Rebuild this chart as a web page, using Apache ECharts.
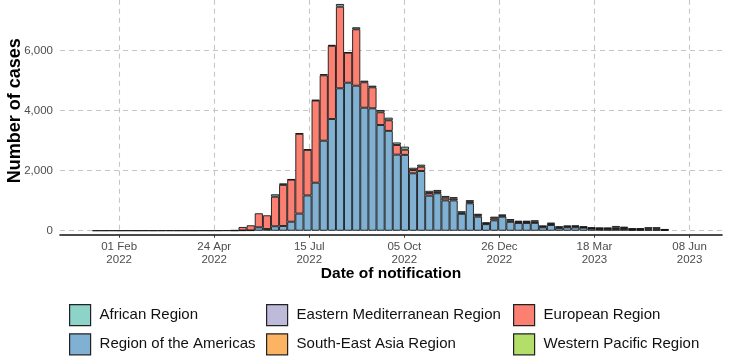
<!DOCTYPE html>
<html><head><meta charset="utf-8">
<script src="https://cdn.jsdelivr.net/npm/echarts@6.0.0/dist/echarts.min.js"></script>
<style>html,body{margin:0;padding:0;background:#fff}#c{width:735px;height:361px}</style>
</head><body><div id="c"></div>
<script>
// Weekly bins (week starting Sunday)
const weekStart = [
 '2022-01-09','2022-01-16','2022-01-23','2022-01-30',
 '2022-02-06','2022-02-13','2022-02-20','2022-02-27',
 '2022-03-06','2022-03-13','2022-03-20','2022-03-27',
 '2022-04-03','2022-04-10','2022-04-17','2022-04-24',
 '2022-05-01','2022-05-08','2022-05-15','2022-05-22','2022-05-29',
 '2022-06-05','2022-06-12','2022-06-19','2022-06-26',
 '2022-07-03','2022-07-10','2022-07-17','2022-07-24','2022-07-31',
 '2022-08-07','2022-08-14','2022-08-21','2022-08-28',
 '2022-09-04','2022-09-11','2022-09-18','2022-09-25',
 '2022-10-02','2022-10-09','2022-10-16','2022-10-23','2022-10-30',
 '2022-11-06','2022-11-13','2022-11-20','2022-11-27',
 '2022-12-04','2022-12-11','2022-12-18','2022-12-25',
 '2023-01-01','2023-01-08','2023-01-15','2023-01-22','2023-01-29',
 '2023-02-05','2023-02-12','2023-02-19','2023-02-26',
 '2023-03-05','2023-03-12','2023-03-19','2023-03-26',
 '2023-04-02','2023-04-09','2023-04-16','2023-04-23','2023-04-30',
 '2023-05-07','2023-05-14'
];
const americas = [
 null,null,null,null, null,null,null,null, null,null,null,null, null,null,null,null,
 null,2,8,10,113, 57,147,157,300, 570,1175,1600,3000,3723,
 4747,4933,4833,4100, 4080,3523,3328,2535, 2528,1913,1990,1168,1247,
 1010,1010,563,913, 467,218,345,467, 295,257,257,260,113,
 190,83,113,113, 100,67,53,50, 53,53,30,30,40, 40,20
];
const european = [
 1,1,2,1, 2,1,2,1, 2,3,2,3, 2,4,3,5,
 8,15,115,170,467, 456,986,1370,1400, 2660,1520,2740,2180,2440,
 2720,1000,1880,847, 700,424,352,322, 172,110,143,89,50,
 90,60,40,50, 50,30,68,40, 50,40,40,45,30,
 40,30,27,32, 20,20,25,25, 44,40,25,25,35, 35,15
];
const african = [
 null,null,null,null, null,null,null,null, null,null,null,null, null,null,null,null,
 null,null,null,null,null, null,80,50,15, 17,18,17,40,27,
 90,14,67,53, 53,76,87,83, 100,74,67,71,60,
 57,47,42,55, 46,25,54,28, 40,31,31,40,24,
 37,32,30,30, 20,20,22,25, 60,40,25,25,38, 38,12
];
const easternMed = weekStart.map(() => null);
const seAsia = weekStart.map(() => null);
const westernPacific = weekStart.map(() => null);

const tickDates = ['2022-02-01','2022-04-24','2022-07-15','2022-10-05','2022-12-26','2023-03-18','2023-06-08'];
const xRange = ['2021-12-12','2023-07-06'];
const yTicks = [0, 2000, 4000, 6000];

const DAY = 86400000;
const toMs = s => Date.parse(s + 'T00:00:00Z');
const centers = weekStart.map(s => toMs(s) + 3.5 * DAY);
const months = ['Jan','Feb','Mar','Apr','May','Jun','Jul','Aug','Sep','Oct','Nov','Dec'];
const fmtDate = v => { const d = new Date(v); const dd = String(d.getUTCDate()).padStart(2,'0');
  return dd + ' ' + months[d.getUTCMonth()] + '\n' + d.getUTCFullYear(); };

const FONT = '"Liberation Sans", Arial, Helvetica, sans-serif';
const gridStyle = { color: '#c6c6c6', type: [5, 4], width: 1.1 };

// value first so that stacking happens on the count dimension
const mk = (name, arr, color) => ({
  name, type: 'bar', stack: 'total', barWidth: '100%',
  encode: { x: 1, y: 0 },
  itemStyle: { color, borderColor: '#151515', borderWidth: 0.9 },
  emphasis: { disabled: true },
  data: arr.map((v, i) => [v, centers[i]])
});

// stacking order bottom -> top
const series = [
  mk('Western Pacific Region', westernPacific, '#B3DE69'),
  mk('South-East Asia Region', seAsia, '#FDB462'),
  mk('Region of the Americas', americas, '#80B1D3'),
  mk('European Region', european, '#FB8072'),
  mk('Eastern Mediterranean Region', easternMed, '#BEBADA'),
  mk('African Region', african, '#8DD3C7')
];

const legendBase = (left, names) => ({
  left, top: 304, orient: 'vertical', padding: 0,
  itemWidth: 21, itemHeight: 21, itemGap: 7, icon: 'rect',
  itemStyle: { borderColor: '#222', borderWidth: 1.2 },
  textStyle: { fontFamily: FONT, fontSize: 15, color: '#111', padding: [0, 0, 0, 4] },
  selectedMode: false, data: names
});

const chart = echarts.init(document.getElementById('c'), null, { renderer: 'canvas' });
chart.setOption({
  animation: false,
  backgroundColor: '#fff',
  textStyle: { fontFamily: FONT },
  grid: { left: 60, right: 13, top: -9.3, bottom: 130.3, containLabel: false, outerBoundsMode: 'none' },
  legend: [
    legendBase(69, ['African Region', 'Region of the Americas']),
    legendBase(266, ['Eastern Mediterranean Region', 'South-East Asia Region']),
    legendBase(513, ['European Region', 'Western Pacific Region'])
  ],
  xAxis: {
    type: 'value', min: toMs(xRange[0]), max: toMs(xRange[1]),
    position: 'bottom', offset: 4,
    axisLine: { show: true, onZero: false, lineStyle: { color: '#111', width: 1.6 } },
    axisTick: { show: true, customValues: tickDates.map(toMs), length: 3, lineStyle: { color: '#333' } },
    axisLabel: { customValues: tickDates.map(toMs), formatter: fmtDate, color: '#4d4d4d',
      fontSize: 11.5, lineHeight: 13.5, margin: 5, fontFamily: FONT, hideOverlap: false },
    splitLine: { show: true, lineStyle: gridStyle },
    name: 'Date of notification', nameLocation: 'middle', nameGap: 31, nameMoveOverlap: false,
    nameTextStyle: { fontWeight: 'bold', fontSize: 15.5, color: '#000', fontFamily: FONT }
  },
  yAxis: {
    type: 'value', min: 0, max: 8000, interval: 2000,
    axisLine: { show: false }, axisTick: { show: false },
    axisLabel: { color: '#4d4d4d', fontSize: 11.5, margin: 7, showMaxLabel: false, fontFamily: FONT,
      formatter: v => yTicks.includes(v) ? v.toLocaleString('en-US') : '' },
    splitLine: { show: true, lineStyle: gridStyle },
    name: 'Number of cases', nameLocation: 'middle', nameGap: 36, nameMoveOverlap: false,
    nameTextStyle: { fontWeight: 'bold', fontSize: 18, color: '#000', fontFamily: FONT }
  },
  series
});
</script></body></html>
